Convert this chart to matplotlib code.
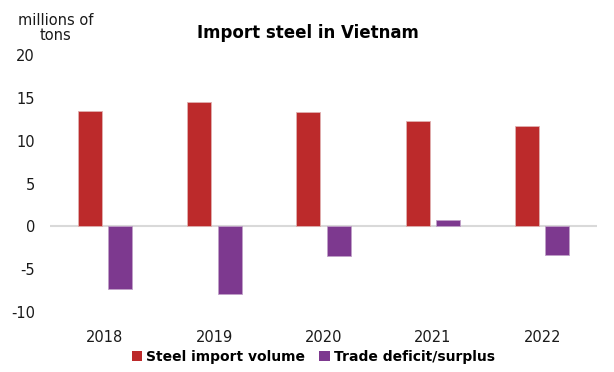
import matplotlib.pyplot as plt
import numpy as np

years = ["2018", "2019", "2020", "2021", "2022"]
import_volume = [13.5, 14.5, 13.3, 12.3, 11.7]
trade_balance = [-7.3, -7.9, -3.5, 0.75, -3.3]

RED = "#BC2A2B"
PURPLE = "#7D398F"


def main():
    plt.rcParams["axes.unicode_minus"] = False
    fig = plt.figure(figsize=(6.14, 3.72), dpi=100)
    ax = fig.add_axes([0.082, 0.161, 0.89, 0.691])

    x = np.arange(len(years))
    w = 0.22
    ax.bar(x - w / 2 - 0.03, import_volume, w, color=RED, edgecolor="#e0b0b0",
           linewidth=0.6, label="Steel import volume", zorder=3)
    ax.bar(x + w / 2 + 0.03, trade_balance, w, color=PURPLE, edgecolor="#c0a0c8",
           linewidth=0.6, label="Trade deficit/surplus", zorder=3)

    ax.set_ylim(-10, 20)
    ax.set_xlim(-0.5, len(years) - 0.5)
    ax.set_yticks([-10, -5, 0, 5, 10, 15, 20])
    ax.set_xticks(x)
    ax.set_xticklabels(years)
    ax.axhline(0, color="#d9d9d9", linewidth=1.5, zorder=2)
    for s in ax.spines.values():
        s.set_visible(False)
    ax.tick_params(length=0, labelsize=10.5, colors="#1a1a1a")
    ax.tick_params(axis="x", pad=13)
    ax.tick_params(axis="y", pad=11)

    fig.text(0.09, 0.925, "millions of\ntons", ha="center", va="center",
             fontsize=10.5, color="#1a1a1a", linespacing=1.05)
    fig.text(0.502, 0.91, "Import steel in Vietnam", ha="center", va="center",
             fontsize=12, fontweight="bold")

    leg = fig.legend(loc="center", bbox_to_anchor=(0.51, 0.04), ncol=2,
                     frameon=False, handlelength=0.75, handleheight=0.75,
                     handletextpad=0.3, columnspacing=1.0,
                     prop={"size": 10, "weight": "bold"})
    for h in leg.legend_handles:
        h.set_edgecolor("none")

    fig.savefig("out.png", dpi=100)


if __name__ == "__main__":
    main()
